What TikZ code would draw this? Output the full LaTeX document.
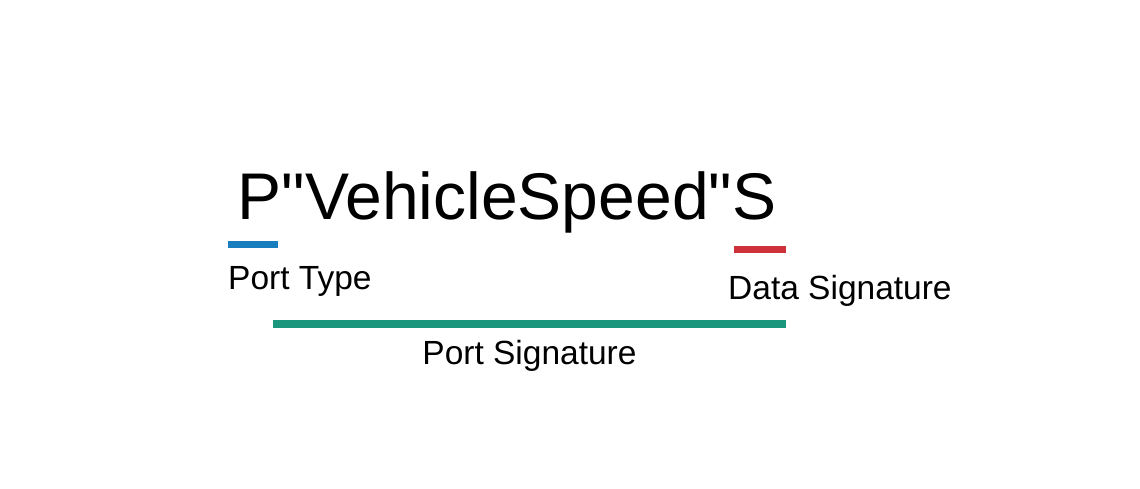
\documentclass[tikz,border=0pt]{standalone}
\usepackage{fontspec}
\setmainfont{Liberation Sans}
\usetikzlibrary{positioning}

\definecolor{typeblue}{RGB}{24,126,190}
\definecolor{datared}{RGB}{207,48,58}
\definecolor{portgreen}{RGB}{26,150,124}

\tikzset{
	bar/.style = {rectangle, inner sep=0pt, minimum height = 7pt},
	caption/.style = {inner sep=0pt, anchor = base west, font = \fontsize{33.5}{40}\selectfont}
}

\begin{document}
\begin{tikzpicture}[x=1pt, y=-1pt]
\useasboundingbox (0,0) rectangle (1140,489);
\node[inner sep=0pt, anchor = base, font = \fontsize{66}{79}\selectfont] (name) at (507,219.5) {P\textquotedbl VehicleSpeed\textquotedbl S};
\node[bar, fill = typeblue, minimum width = 50pt] (tbar) at (253,244.5) {};
\node[bar, fill = datared, minimum width = 52pt] (dbar) at (760,249) {};
\node[bar, fill = portgreen, minimum width = 513pt, minimum height = 7.5pt] (pbar) at (529.5,324) {};
\node[caption] (tlabel) at (228,289) {Port Type};
\node[caption] (dlabel) at (728,299) {Data Signature};
\node[caption, anchor = base] (plabel) at (pbar.center |- 0,364) {Port Signature};
\end{tikzpicture}
\end{document}
